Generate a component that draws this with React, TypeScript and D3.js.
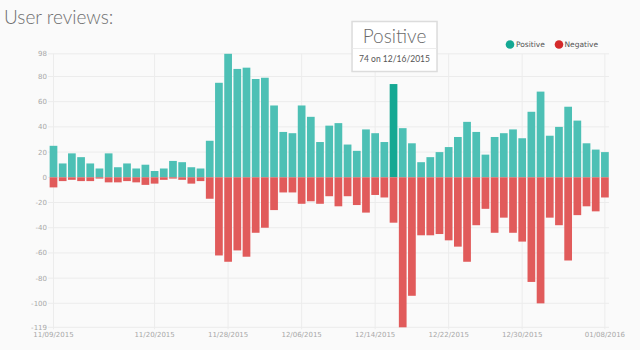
import React from 'react';
import * as d3 from 'd3';

const startDate = new Date(2015, 10, 9);
const dates: Date[] = d3.timeDay.range(startDate, d3.timeDay.offset(startDate, 61));

const positive = [
  25, 11, 19, 16, 11, 7, 19, 8, 11, 7, 10, 5, 7, 13, 12, 8, 7, 29, 75, 98, 86, 87,
  78, 79, 57, 36, 35, 57, 48, 28, 41, 43, 26, 21, 38, 35, 28, 74, 39, 27, 12, 16, 20, 24, 32, 44, 36, 18, 32, 35, 38, 31, 52,
  68, 33, 40, 56, 45, 27, 22, 20,
];
const negative = [
  -8, -3, -2, -3, -3, -1, -4, -4, -3, -4, -6, -5, -2, -1, -2, -5, -3, -17, -62, -67, -58, -63,
  -44, -40, -26, -12, -12, -21, -19, -21, -15, -23, -15, -22, -28, -14, -16, -36, -119, -94, -46, -46, -45, -50, -55, -67, -38, -25, -44, -32, -44, -51, -83,
  -100, -32, -38, -66, -30, -23, -27, -16,
];
const yTicks = [98, 80, 60, 40, 20, 0, -20, -40, -60, -80, -100, -119];
const xTickLabels = ['11/09/2015', '11/20/2015', '11/28/2015', '12/06/2015', '12/14/2015', '12/22/2015', '12/30/2015', '01/08/2016'];
const highlightLabel = '12/16/2015';
const seriesNames = ['Positive', 'Negative'];

const fmt = d3.timeFormat('%m/%d/%Y');
const keys = dates.map((d) => fmt(d));

const COLORS = { pos: '#4dc0b5', neg: '#e15b5b', hi: '#14a893' };

export default function App() {
  const x = d3.scaleBand<string>().domain(keys).range([48.9, 609.5]).paddingInner(0.16).paddingOuter(0.08);
  const y = d3.scaleLinear().domain([-119, 98]).range([327.3, 53.8]);
  const bw = x.bandwidth();
  const cx = (k: string) => (x(k) as number) + bw / 2;
  const hiIdx = keys.indexOf(highlightLabel);
  const hiX = cx(highlightLabel);
  const axisFont = '"DejaVu Sans", sans-serif';

  return (
    <svg width={640} height={350} style={{ position: 'absolute', left: 0, top: 0, background: '#fafafa' }}>
      <rect x={0} y={0} width={640} height={350} fill="#fafafa" />
      <text x={4} y={24} fontFamily="Lato, 'Open Sans', sans-serif" fontWeight={300} fontSize={19} fill="#6f6f6f">
        User reviews:
      </text>

      {yTicks.map((t) => (
        <line key={'g' + t} x1={48} x2={609} y1={y(t)} y2={y(t)} stroke="#ececec" strokeWidth={1} />
      ))}
      {xTickLabels.map((k) => (
        <line key={'v' + k} x1={cx(k)} x2={cx(k)} y1={y(98)} y2={y(-119) + 2} stroke="#ececec" strokeWidth={1} />
      ))}

      {keys.map((k, i) => (
        <g key={k}>
          <rect x={x(k)} width={bw} y={y(positive[i])} height={y(0) - y(positive[i])} fill={i === hiIdx ? COLORS.hi : COLORS.pos} />
          <rect x={x(k)} width={bw} y={y(0)} height={y(negative[i]) - y(0)} fill={COLORS.neg} />
        </g>
      ))}

      {yTicks.map((t) => (
        <text key={'yl' + t} x={47} y={y(t) + 2.5} textAnchor="end" fontFamily={axisFont} fontSize={7} fill="#a8a8a8">
          {t}
        </text>
      ))}
      {xTickLabels.map((k) => (
        <text key={'xl' + k} x={cx(k)} y={336.5} textAnchor="middle" fontFamily={axisFont} fontSize={7} fill="#a8a8a8">
          {k}
        </text>
      ))}

      <g>
        <circle cx={510} cy={44.5} r={4.3} fill={COLORS.hi} />
        <text x={516} y={47.3} fontFamily={axisFont} fontSize={7.5} fill="#555">{seriesNames[0]}</text>
        <circle cx={559} cy={44.5} r={4.3} fill="#d42a2a" />
        <text x={564.5} y={47.3} fontFamily={axisFont} fontSize={7.5} fill="#555">{seriesNames[1]}</text>
      </g>

      <g>
        <rect x={hiX - 41.5} y={21.5} width={85} height={50} fill="#ffffff" stroke="#dcdcdc" strokeWidth={1.5} />
        <line x1={hiX - 41} x2={hiX + 43} y1={48.5} y2={48.5} stroke="#ececec" />
        <text x={hiX + 1} y={43.3} textAnchor="middle" fontFamily="Lato, 'Open Sans', sans-serif" fontWeight={300} fontSize={19} fill="#6a6a6a">
          {seriesNames[0]}
        </text>
        <text x={hiX + 1} y={62} textAnchor="middle" fontFamily="Lato, 'Open Sans', sans-serif" fontSize={8.5} fill="#555">
          {`${positive[hiIdx]} on ${highlightLabel}`}
        </text>
      </g>
    </svg>
  );
}
